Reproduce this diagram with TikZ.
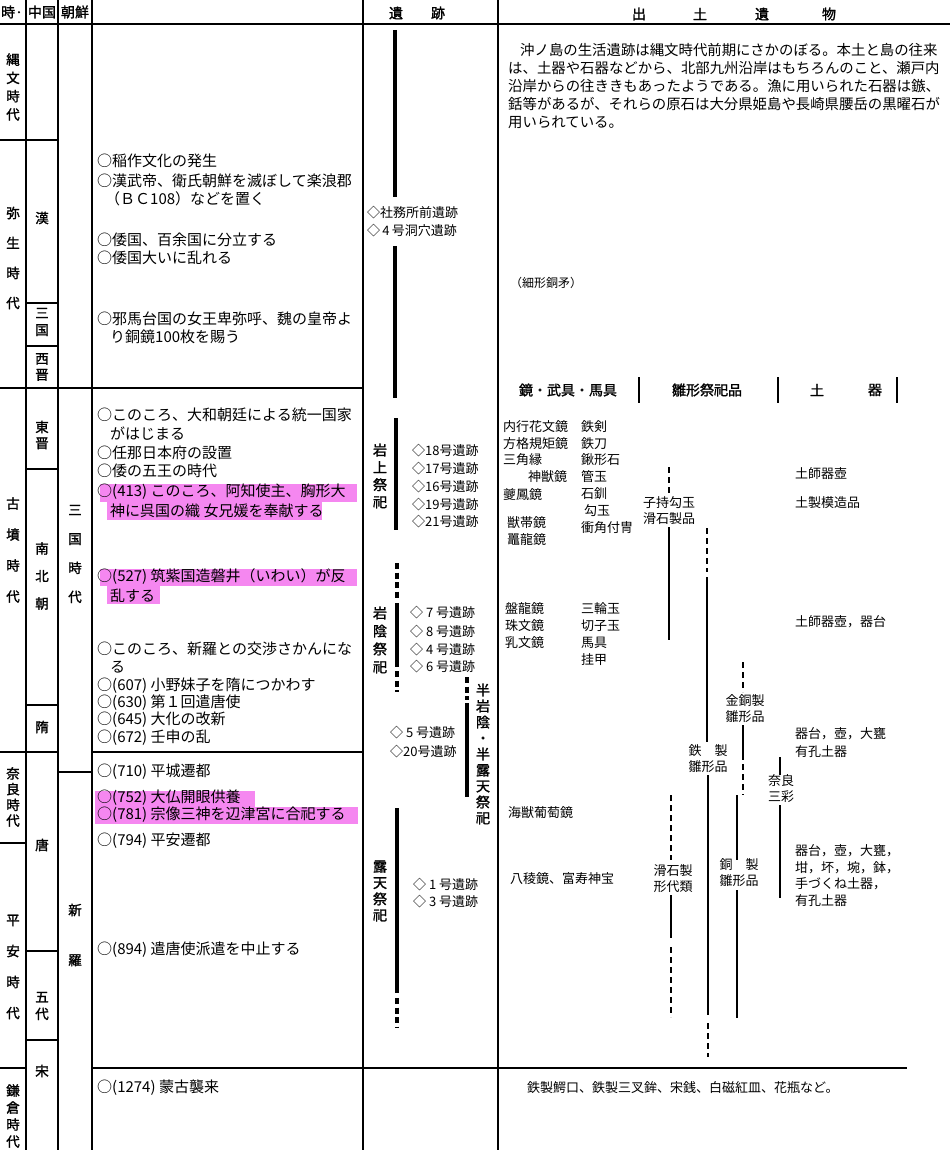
\documentclass[tikz,border=0pt]{standalone}
\usepackage{fontspec}
\setmainfont{Noto Sans CJK JP}
\newfontfamily\jpbold[FakeBold=1.5]{Noto Sans CJK JP}
\definecolor{hl}{RGB}{245,135,240}
\tikzset{
  ev/.style={anchor=west, inner sep=0pt, font=\fontsize{15}{18}\selectfont},
  site/.style={anchor=west, inner sep=0pt, font=\fontsize{13}{16}\selectfont},
  art/.style={anchor=west, inner sep=0pt, font=\fontsize{13}{16}\selectfont},
  art2/.style={align=center, inner sep=0pt, font=\fontsize{13}{16}\selectfont},
  para/.style={anchor=west, inner sep=0pt, font=\fontsize{14.4}{18}\selectfont},
  vt/.style={align=center, inner sep=0pt, font=\jpbold\fontsize{13.5}{#1}\selectfont},
  vtb/.style={align=center, inner sep=0pt, font=\jpbold\fontsize{14}{#1}\selectfont},
  head/.style={inner sep=0pt, font=\jpbold\fontsize{14}{16}\selectfont},
  rule/.style={line width=1.4pt},
  sitebar/.style={line width=4.5pt},
  dsitebar/.style={line width=4.5pt, dash pattern=on 6pt off 3.5pt},
  tline/.style={line width=2pt},
  dline/.style={line width=2pt, dash pattern=on 6pt off 4pt},
}
\begin{document}
\begin{tikzpicture}[x=1pt,y=-1pt]
\useasboundingbox (0,0) rectangle (950,1150);
% marker
\fill[hl] (100,484) rectangle (357,502);
\fill[hl] (107,502) rectangle (322,520);
\fill[hl] (100,569) rectangle (357,586);
\fill[hl] (107,586) rectangle (160,604);
\fill[hl] (95,791) rectangle (255,807);
\fill[hl] (95,807) rectangle (358,824);
% table rules
\draw[rule] (26,0) -- (26,1150);
\draw[rule] (58,0) -- (58,1150);
\draw[rule] (92,0) -- (92,1150);
\draw[rule] (363,0) -- (363,1150);
\draw[rule] (498,0) -- (498,1150);
\draw[line width=2.2pt] (0,24) -- (950,24);
\draw[rule] (0,140) -- (58,140);
\draw[rule] (26,303) -- (58,303);
\draw[rule] (26,346) -- (58,346);
\draw[rule] (0,388) -- (363,388);
\draw[rule] (26,469) -- (58,469);
\draw[rule] (26,705) -- (58,705);
\draw[rule] (0,752) -- (58,752);
\draw[rule] (92,752) -- (363,752);
\draw[rule] (58,772) -- (92,772);
\draw[rule] (0,843) -- (26,843);
\draw[rule] (26,951) -- (58,951);
\draw[rule] (26,1040) -- (58,1040);
\draw[line width=2.2pt] (0,1068) -- (26,1068);
\draw[line width=2.2pt] (92,1068) -- (907,1068);
% headers
\node[head] (hjidai) at (12,12) {時·};
\node[head] (hchina) at (42,12) {中国};
\node[head] (hkorea) at (75,12) {朝鮮};
\node[head] (hi) at (396,13) {遺};
\node[head] (hseki) at (438,13) {跡};
\node[head] (hde) at (639,14) {出};
\node[head] (hdo) at (700,14) {土};
\node[head] (hi2) at (762,14) {遺};
\node[head] (hbutsu) at (829,14) {物};
% periods
\node[vt=18.3] (jomon) at (13,87) {縄\\文\\時\\代};
\node[vt=30] (yayoi) at (13,258) {弥\\生\\時\\代};
\node[vt=31] (kofun) at (13,550) {古\\墳\\時\\代};
\node[vt=15.7] (nara) at (13,797) {奈\\良\\時\\代};
\node[vt=31] (heian) at (13,967) {平\\安\\時\\代};
\node[vt=17] (kamakura) at (13,1116) {鎌\\倉\\時\\代};
% China
\node[vt=16] (han) at (42,218) {漢};
\node[vt=17] (sangoku) at (42,322) {三\\国};
\node[vt=16] (seishin) at (42,367) {西\\晋};
\node[vt=16] (toshin) at (42,435) {東\\晋};
\node[vt=27.5] (nanboku) at (42,576) {南\\北\\朝};
\node[vt=16] (zui) at (42,727) {隋};
\node[vt=16] (tou) at (42,845) {唐};
\node[vt=17] (godai) at (42,1006) {五\\代};
\node[vt=16] (sou) at (42,1071) {宋};
% Korea
\node[vt=29] (kosangoku) at (75,554) {三\\国\\時\\代};
\node[vt=50] (shiragi) at (75,935) {新\\羅};
% events
\node[ev] (ev1) at (97,161) {○稲作文化の発生};
\node[ev] (ev2) at (97,181) {○漢武帝、衛氏朝鮮を滅ぼして楽浪郡};
\node[ev] (ev2b) at (105,199) {（ＢＣ108）などを置く};
\node[ev] (ev3) at (97,240) {○倭国、百余国に分立する};
\node[ev] (ev4) at (97,258) {○倭国大いに乱れる};
\node[ev] (ev5) at (97,319) {○邪馬台国の女王卑弥呼、魏の皇帝よ};
\node[ev] (ev5b) at (110,337) {り銅鏡100枚を賜う};
\node[ev] (ev6) at (97,415) {○このころ、大和朝廷による統一国家};
\node[ev] (ev6b) at (110,434) {がはじまる};
\node[ev] (ev7) at (97,453) {○任那日本府の設置};
\node[ev] (ev8) at (97,471) {○倭の五王の時代};
\node[ev] (ev9) at (97,492) {○(413)\ このころ、阿知使主、胸形大};
\node[ev] (ev9b) at (110,511) {神に呉国の織\ 女兄媛を奉献する};
\node[ev] (ev10) at (97,577) {○(527)\ 筑紫国造磐井（いわい）が反};
\node[ev] (ev10b) at (110,596) {乱する};
\node[ev] (ev11) at (97,649) {○このころ、新羅との交渉さかんにな};
\node[ev] (ev11b) at (110,667) {る};
\node[ev] (ev12) at (97,686) {○(607)\ 小野妹子を隋につかわす};
\node[ev] (ev13) at (97,703) {○(630)\ 第１回遣唐使};
\node[ev] (ev14) at (97,720) {○(645)\ 大化の改新};
\node[ev] (ev15) at (97,738) {○(672)\ 壬申の乱};
\node[ev] (ev16) at (97,772) {○(710)\ 平城遷都};
\node[ev] (ev17) at (97,798) {○(752)\ 大仏開眼供養};
\node[ev] (ev18) at (97,815) {○(781)\ 宗像三神を辺津宮に合祀する};
\node[ev] (ev19) at (97,841) {○(794)\ 平安遷都};
\node[ev] (ev20) at (97,950) {○(894)\ 遣唐使派遣を中止する};
\node[ev] (ev21) at (97,1088) {○(1274)\ 蒙古襲来};
% sites
\draw[sitebar] (395,30) -- (395,197);
\draw[sitebar] (395,246) -- (395,398);
\draw[sitebar] (396,418) -- (396,530);
\draw[dsitebar] (397,563) -- (397,600);
\draw[sitebar] (397,603) -- (397,667);
\draw[dsitebar] (397,671) -- (397,692);
\draw[dsitebar] (467,677) -- (467,700);
\draw[sitebar] (467,703) -- (467,797);
\draw[sitebar] (397,808) -- (397,993);
\draw[dsitebar] (397,998) -- (397,1028);
\node[site] (shamusho) at (367,213) {◇社務所前遺跡};
\node[site] (dokutsu) at (367,231) {◇\,4\,号洞穴遺跡};
\node[vtb=17.3] (iwaue) at (380,476) {岩\\上\\祭\\祀};
\node[site] (s18) at (412,451) {◇18号遺跡};
\node[site] (s17) at (412,469) {◇17号遺跡};
\node[site] (s16) at (412,487) {◇16号遺跡};
\node[site] (s19) at (412,505) {◇19号遺跡};
\node[site] (s21) at (412,522) {◇21号遺跡};
\node[vtb=18] (iwakage) at (380,640) {岩\\陰\\祭\\祀};
\node[site] (s7) at (410,613) {◇\ 7\ 号遺跡};
\node[site] (s8) at (410,632) {◇\ 8\ 号遺跡};
\node[site] (s4) at (410,650) {◇\ 4\ 号遺跡};
\node[site] (s6) at (410,667) {◇\ 6\ 号遺跡};
\node[vtb=16] (hanroten) at (483,754) {半\\岩\\陰\\・\\半\\露\\天\\祭\\祀};
\node[site] (s5) at (390,733) {◇\ 5\ 号遺跡};
\node[site] (s20) at (390,752) {◇20号遺跡};
\node[vtb=16.3] (roten) at (380,891) {露\\天\\祭\\祀};
\node[site] (s1) at (413,885) {◇\ 1\ 号遺跡};
\node[site] (s3) at (413,902) {◇\ 3\ 号遺跡};
% artifacts
\node[para] (p1) at (520,50) {沖ノ島の生活遺跡は縄文時代前期にさかのぼる。本土と島の往来};
\node[para] (p2) at (508,68) {は、土器や石器などから、北部九州沿岸はもちろんのこと、瀬戸内};
\node[para] (p3) at (508,86) {沿岸からの往ききもあったようである。漁に用いられた石器は鏃、};
\node[para] (p4) at (508,104) {銛等があるが、それらの原石は大分県姫島や長崎県腰岳の黒曜石が};
\node[para] (p5) at (508,122) {用いられている。};
\node[art, font=\fontsize{12}{14}\selectfont] (hosogata) at (510,283) {（細形銅矛）};
\node[head] (hkagami) at (568,390) {鏡・武具・馬具};
\node[head] (hhinagata) at (707,390) {雛形祭祀品};
\node[head] (hdo2) at (817,390) {土};
\node[head] (hki) at (875,390) {器};
\draw[tline] (639,377) -- (639,403);
\draw[tline] (778,377) -- (778,403);
\draw[tline] (897,377) -- (897,403);
\node[art] (a1) at (503,427) {内行花文鏡};
\node[art] (a2) at (503,444) {方格規矩鏡};
\node[art] (a3) at (503,460) {三角縁};
\node[art] (a4) at (528,477) {神獣鏡};
\node[art] (a5) at (503,495) {夔鳳鏡};
\node[art] (a6) at (507,523) {獣帯鏡};
\node[art] (a7) at (507,540) {鼉龍鏡};
\node[art] (b1) at (581,427) {鉄剣};
\node[art] (b2) at (581,444) {鉄刀};
\node[art] (b3) at (581,460) {鍬形石};
\node[art] (b4) at (581,477) {管玉};
\node[art] (b5) at (581,494) {石釧};
\node[art] (b6) at (584,511) {勾玉};
\node[art] (b7) at (581,528) {衝角付冑};
\node[art] (a8) at (505,609) {盤龍鏡};
\node[art] (a9) at (505,626) {珠文鏡};
\node[art] (a10) at (505,643) {乳文鏡};
\node[art] (b8) at (581,609) {三輪玉};
\node[art] (b9) at (581,626) {切子玉};
\node[art] (b10) at (581,643) {馬具};
\node[art] (b11) at (581,660) {挂甲};
\node[art] (a11) at (508,813) {海獣葡萄鏡};
\node[art] (a12) at (510,879) {八稜鏡、富寿神宝};
\node[art2] (komochi) at (669,511) {子持勾玉\\滑石製品};
\node[art2] (kondo) at (745,709) {金銅製\\雛形品};
\node[art2] (tetsusei) at (708,759) {鉄　製\\雛形品};
\node[art2] (sansai) at (781,789) {奈良\\三彩};
\node[art2] (katashiro) at (673,879) {滑石製\\形代類};
\node[art2] (dousei) at (739,873) {銅　製\\雛形品};
\node[art] (d1) at (795,474) {土師器壺};
\node[art] (d2) at (795,503) {土製模造品};
\node[art] (d3) at (795,622) {土師器壺，器台};
\node[art] (d4) at (795,734) {器台，壺，大甕};
\node[art] (d5) at (795,752) {有孔土器};
\node[art] (d6) at (795,851) {器台，壺，大甕，};
\node[art] (d7) at (795,868) {坩，坏，埦，鉢，};
\node[art] (d8) at (795,884) {手づくね土器，};
\node[art] (d9) at (795,901) {有孔土器};
\node[art] (kamakurafind) at (527,1088) {鉄製鰐口、鉄製三叉鉾、宋銭、白磁紅皿、花瓶など。};
% lines of ritual goods
\draw[dline] (669,467) -- (669,493);
\draw[tline] (669,527) -- (669,640);
\draw[dline] (707,528) -- (707,572);
\draw[tline] (707,577) -- (707,742);
\draw[tline] (708,775) -- (708,1015);
\draw[dline] (708,1023) -- (708,1057);
\draw[dline] (743,662) -- (743,692);
\draw[tline] (743,725) -- (743,760);
\draw[dline] (743,764) -- (743,795);
\draw[tline] (737,795) -- (737,860);
\draw[tline] (737,890) -- (737,1018);
\draw[tline] (780,757) -- (780,775);
\draw[tline] (780,805) -- (780,898);
\draw[dline] (671,795) -- (671,860);
\draw[tline] (671,895) -- (671,938);
\draw[dline] (671,947) -- (671,1017);
\end{tikzpicture}
\end{document}
